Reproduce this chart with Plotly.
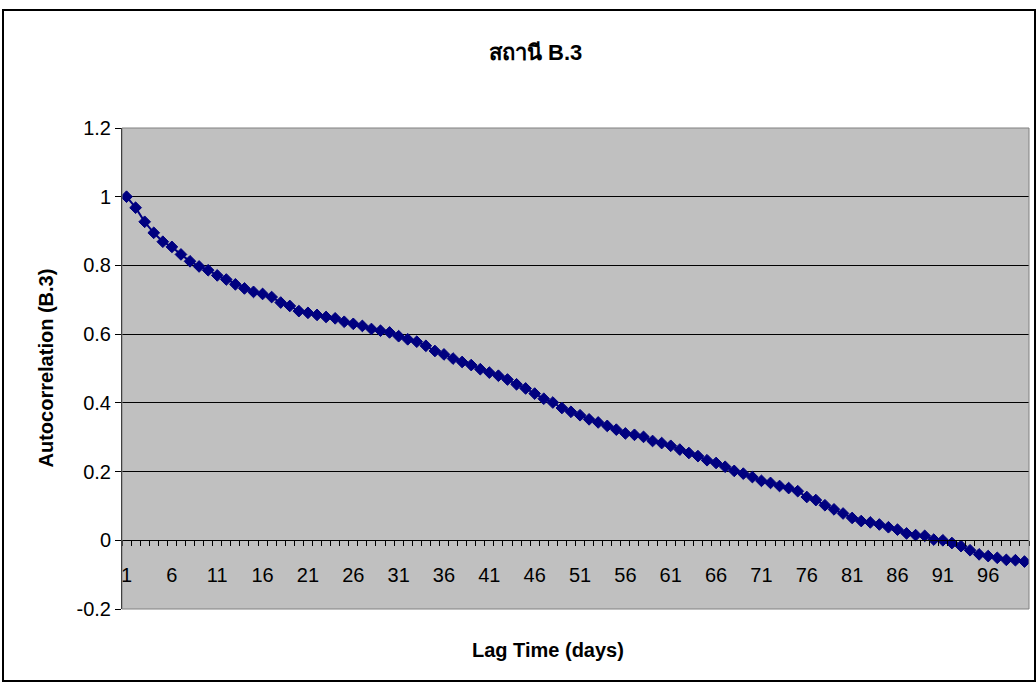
import plotly.graph_objects as go

# Autocorrelation of station B.3 for lags of 1..100 days
lag_days = list(range(1, 101))
autocorrelation = [
    1.000, 0.968, 0.927, 0.895, 0.869, 0.854, 0.832, 0.812, 0.797, 0.786,
    0.771, 0.759, 0.745, 0.733, 0.723, 0.717, 0.708, 0.692, 0.682, 0.667,
    0.662, 0.656, 0.650, 0.646, 0.636, 0.630, 0.624, 0.615, 0.610, 0.605,
    0.594, 0.585, 0.578, 0.566, 0.551, 0.541, 0.529, 0.519, 0.510, 0.498,
    0.488, 0.479, 0.468, 0.454, 0.442, 0.427, 0.412, 0.401, 0.385, 0.374,
    0.364, 0.352, 0.343, 0.333, 0.322, 0.311, 0.307, 0.301, 0.289, 0.283,
    0.275, 0.264, 0.254, 0.245, 0.233, 0.225, 0.214, 0.202, 0.194, 0.184,
    0.173, 0.167, 0.158, 0.152, 0.143, 0.126, 0.117, 0.102, 0.090, 0.078,
    0.065, 0.056, 0.052, 0.046, 0.038, 0.031, 0.020, 0.015, 0.013, 0.002,
    0.000, -0.008, -0.017, -0.029, -0.041, -0.046, -0.051, -0.057, -0.058, -0.062,
]

# Labelled lags (every fifth) and the y-axis ticks
x_label_lags = list(range(1, 101, 5))
x_label_text = [str(v) for v in x_label_lags]
y_tick_vals = [-0.2, 0, 0.2, 0.4, 0.6, 0.8, 1.0, 1.2]
y_tick_text = ["-0.2", "0", "0.2", "0.4", "0.6", "0.8", "1", "1.2"]

chart_title = "สถานี B.3"
x_title = "Lag Time (days)"
y_title = "Autocorrelation (B.3)"

FONT = "Liberation Sans, Arial, Noto Sans, sans-serif"
W, H = 1036, 684
L, R, T, B = 122, 7, 128, 75
plot_w = W - L - R
plot_h = H - T - B

y_min, y_max = -0.2, 1.2

fig = go.Figure()
fig.add_trace(go.Scatter(
    x=lag_days,
    y=autocorrelation,
    mode="lines+markers",
    line=dict(color="#000080", width=2),
    marker=dict(symbol="diamond", size=9, color="#000080",
                line=dict(color="#000080", width=1)),
    showlegend=False,
    hoverinfo="x+y",
))

# category boundaries for the small ticks along the zero line
boundaries = [v - 0.5 for v in lag_days] + [lag_days[-1] + 0.5]

fig.update_layout(
    width=W, height=H,
    margin=dict(l=L, r=R, t=T, b=B, pad=0),
    paper_bgcolor="white",
    plot_bgcolor="#C0C0C0",
    font=dict(family=FONT, size=20, color="black"),
    xaxis=dict(
        range=[0.5, 100.5],
        anchor="free",
        position=(0 - y_min) / (y_max - y_min),
        showline=True, linecolor="black", linewidth=1,
        showgrid=False, zeroline=False,
        tickmode="array", tickvals=x_label_lags, ticktext=x_label_text,
        ticks="outside", ticklen=5, tickcolor="rgba(0,0,0,0)",
        ticklabelstandoff=12,
        tickfont=dict(family=FONT, size=20, color="black"),
        minor=dict(tickmode="array", tickvals=boundaries, ticks="outside",
                   ticklen=5, tickcolor="black", tickwidth=1, showgrid=False),
    ),
    yaxis=dict(
        range=[y_min, y_max],
        showline=True, linecolor="black", linewidth=1,
        showgrid=True, gridcolor="black", gridwidth=1,
        zeroline=False,
        tickmode="array", tickvals=y_tick_vals, ticktext=y_tick_text,
        ticks="outside", ticklen=6, tickcolor="black",
        tickfont=dict(family=FONT, size=20, color="black"),
    ),
    shapes=[
        # plot area frame
        dict(type="rect", xref="paper", yref="paper", x0=0, x1=1, y0=0, y1=1,
             line=dict(color="#808080", width=1), layer="above"),
        # chart area frame
        dict(type="rect", xref="paper", yref="paper",
             x0=(3 - L) / plot_w, x1=(1035 - L) / plot_w,
             y0=((H - B) - 681) / plot_h, y1=((H - B) - 10) / plot_h,
             line=dict(color="black", width=2), layer="above"),
    ],
    annotations=[
        dict(text=f"<b>{chart_title}</b>", xref="paper", yref="paper",
             x=(535 - L) / plot_w, y=((H - B) - 52) / plot_h,
             xanchor="center", yanchor="middle", showarrow=False,
             font=dict(family=FONT, size=22, color="black")),
        dict(text=f"<b>{x_title}</b>", xref="paper", yref="paper",
             x=(548 - L) / plot_w, y=((H - B) - 650) / plot_h,
             xanchor="center", yanchor="middle", showarrow=False,
             font=dict(family=FONT, size=20, color="black")),
        dict(text=f"<b>{y_title}</b>", xref="paper", yref="paper",
             x=(45 - L) / plot_w, y=0.5, textangle=-90,
             xanchor="center", yanchor="middle", showarrow=False,
             font=dict(family=FONT, size=20, color="black")),
    ],
)

fig.write_html("out.html")
